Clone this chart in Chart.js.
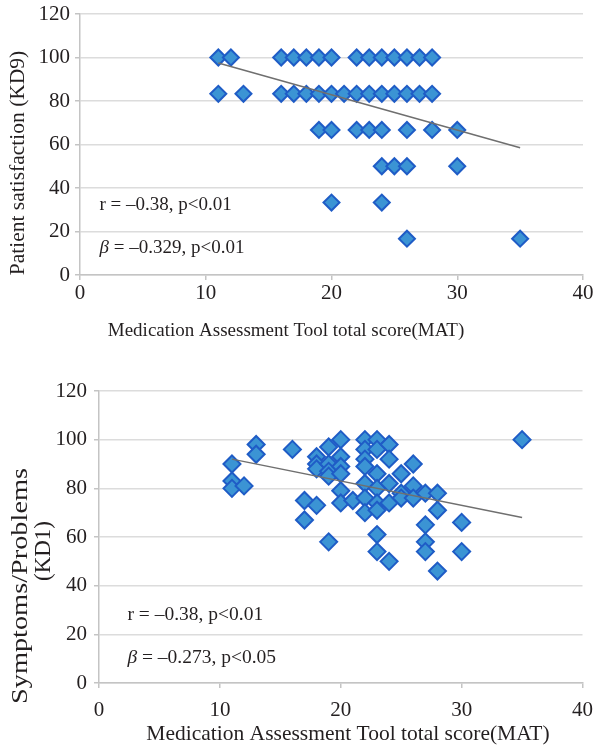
<!DOCTYPE html>
<html>
<head>
<meta charset="utf-8">
<script src="https://cdn.jsdelivr.net/npm/chart.js@4.4.0/dist/chart.umd.min.js"></script>
<style>
  html, body { margin: 0; padding: 0; background: #fff; }
  canvas { display: block; }
</style>
</head>
<body>
<canvas id="kd9Chart" width="593" height="360"></canvas>
<canvas id="kd1Chart" width="593" height="385"></canvas>
<script>
// MAT total score vs KD9 (patient satisfaction)
const mat9 = [11, 12, 16, 17, 18, 19, 20, 22, 23, 24, 25, 26, 27, 28,
              11, 13, 16, 17, 18, 19, 20, 21, 22, 23, 24, 25, 26, 27, 28,
              19, 20, 22, 23, 24, 26, 28, 30,
              24, 25, 26, 30,
              20, 24,
              26, 35];
const kd9 = [100, 100, 100, 100, 100, 100, 100, 100, 100, 100, 100, 100, 100, 100,
             83.3, 83.3, 83.3, 83.3, 83.3, 83.3, 83.3, 83.3, 83.3, 83.3, 83.3, 83.3, 83.3, 83.3, 83.3,
             66.7, 66.7, 66.7, 66.7, 66.7, 66.7, 66.7, 66.7,
             50, 50, 50, 50,
             33.3, 33.3,
             16.7, 16.7];
const trend9X = [11, 35];
const trend9Y = [97.5, 58.5];

// MAT total score vs KD1 (symptoms/problems)
const mat1 = [11, 11, 11, 12, 13, 13, 16, 17, 17,
              18, 18, 18, 18, 19, 19, 19, 19, 19,
              20, 20, 20, 20, 20, 20, 21,
              22, 22, 22, 22, 22, 22, 22,
              23, 23, 23, 23, 23, 23, 23, 23,
              24, 24, 24, 24, 24, 25, 25, 25,
              26, 26, 26, 27, 27, 27, 27, 28, 28, 28,
              30, 30, 35];
const kd1 = [90, 83, 80, 81, 98, 94, 96, 75, 67,
             93, 90, 88, 73, 97, 90, 87, 85, 58,
             100, 93, 89, 86, 79, 74, 75,
             100, 96, 92, 89, 82, 76, 70,
             100, 96, 86, 80, 74, 71, 61, 54,
             98, 92, 82, 74, 50, 86, 78, 76,
             90, 81, 76, 78, 65, 58, 54, 78, 71, 46,
             66, 54, 100];
const trend1X = [11, 35];
const trend1Y = [92, 68];

const xTickValues = [0, 10, 20, 30, 40];
const yTickValues = [0, 20, 40, 60, 80, 100, 120];

const SERIF = '"Liberation Serif", "Times New Roman", serif';
const pts = (xs, ys) => xs.map((x, i) => ({ x: x, y: ys[i] }));

// axis titles and the r / beta notes, drawn on the canvas
const notesPlugin = {
  id: 'notes',
  afterDraw(chart, args, o) {
    const ctx = chart.ctx;
    const xs = chart.scales.x, ys = chart.scales.y;
    ctx.save();
    ctx.fillStyle = '#231f20';
    ctx.textBaseline = 'middle';

    ctx.textAlign = 'center';
    ctx.font = o.xTitle.size + 'px ' + SERIF;
    ctx.fillText(o.xTitle.text, o.xTitle.cx, o.xTitle.cy);

    o.yTitle.forEach(t => {
      ctx.save();
      ctx.translate(t.cx, t.cy);
      ctx.rotate(-Math.PI / 2);
      ctx.font = t.size + 'px ' + SERIF;
      // stretch along the baseline when the picture's title runs longer
      if (t.len) ctx.scale(t.len / ctx.measureText(t.text).width, 1);
      ctx.fillText(t.text, 0, 0);
      ctx.restore();
    });

    ctx.textAlign = 'left';
    o.lines.forEach(line => {
      let px = xs.getPixelForValue(line.x);
      const py = ys.getPixelForValue(line.y);
      line.parts.forEach(p => {
        ctx.font = (p.italic ? 'italic ' : '') + o.noteSize + 'px ' + SERIF;
        ctx.fillText(p.t, px, py);
        px += ctx.measureText(p.t).width;
      });
    });
    ctx.restore();
  }
};

function makeChart(id, cfg) {
  return new Chart(document.getElementById(id), {
    type: 'scatter',
    data: {
      datasets: [
        {
          type: 'line',
          data: pts(cfg.trendX, cfg.trendY),
          borderColor: '#6f6f6f',
          borderWidth: 1.5,
          pointRadius: 0,
          order: 0
        },
        {
          data: pts(cfg.xs, cfg.ys),
          pointStyle: 'rectRot',
          pointRadius: cfg.radius,
          pointBorderWidth: 2,
          backgroundColor: '#3b94d4',
          borderColor: '#1f5cc6',
          order: 1
        }
      ]
    },
    options: {
      responsive: false,
      animation: false,
      layout: { padding: { top: cfg.top, right: 10, left: 0, bottom: 0 } },
      plugins: {
        legend: { display: false },
        tooltip: { enabled: false },
        notes: cfg.notes
      },
      scales: {
        x: {
          type: 'linear',
          min: 0,
          max: 40,
          afterBuildTicks: s => { s.ticks = xTickValues.map(v => ({ value: v })); },
          ticks: { font: { family: SERIF, size: cfg.tickSize }, color: '#231f20', padding: cfg.xPad },
          grid: { drawOnChartArea: false, tickLength: 5, color: '#c4c4c4', lineWidth: 1.5 },
          border: { color: '#c4c4c4', width: 1.5 },
          afterFit: s => { s.height = cfg.xHeight; s.paddingLeft = 0; s.paddingRight = 0; }
        },
        y: {
          min: 0,
          max: 120,
          afterBuildTicks: s => { s.ticks = yTickValues.map(v => ({ value: v })); },
          ticks: { font: { family: SERIF, size: cfg.tickSize }, color: '#231f20', padding: cfg.yPad },
          grid: { color: '#dcdcdc', tickColor: '#c4c4c4', lineWidth: 1.5, tickLength: 5 },
          border: { color: '#c4c4c4', width: 1.5 },
          afterFit: s => { s.width = cfg.yWidth; s.paddingTop = 0; s.paddingBottom = 0; }
        }
      }
    },
    plugins: [notesPlugin]
  });
}

makeChart('kd9Chart', {
  xs: mat9, ys: kd9, trendX: trend9X, trendY: trend9Y,
  radius: 8, top: 14, yWidth: 80, xHeight: 85, tickSize: 21, xPad: 1, yPad: 5,
  notes: {
    xTitle: { text: 'Medication Assessment Tool total score(MAT)', cx: 286, cy: 331, size: 19 },
    yTitle: [{ text: 'Patient satisfaction (KD9)', cx: 18, cy: 163, size: 21.5 }],
    noteSize: 19,
    lines: [
      { x: 1.55, y: 32, parts: [{ t: 'r = \u20130.38, p<0.01' }] },
      { x: 1.55, y: 12.5, parts: [{ t: '\u03b2', italic: true }, { t: ' = \u20130.329, p<0.01' }] }
    ]
  }
});

makeChart('kd1Chart', {
  xs: mat1, ys: kd1, trendX: trend1X, trendY: trend1Y,
  radius: 8.5, top: 31, yWidth: 99, xHeight: 62, tickSize: 21, xPad: 10, yPad: 7,
  notes: {
    xTitle: { text: 'Medication Assessment Tool total score(MAT)', cx: 348, cy: 374, size: 21.5 },
    yTitle: [
      { text: 'Symptoms/Problems', cx: 21, cy: 226, size: 23, len: 236 },
      { text: '(KD1)', cx: 44, cy: 191, size: 23 }
    ],
    noteSize: 19.5,
    lines: [
      { x: 2.35, y: 28, parts: [{ t: 'r = \u20130.38, p<0.01' }] },
      { x: 2.35, y: 10.3, parts: [{ t: '\u03b2', italic: true }, { t: ' = \u20130.273, p<0.05' }] }
    ]
  }
});
</script>
</body>
</html>
